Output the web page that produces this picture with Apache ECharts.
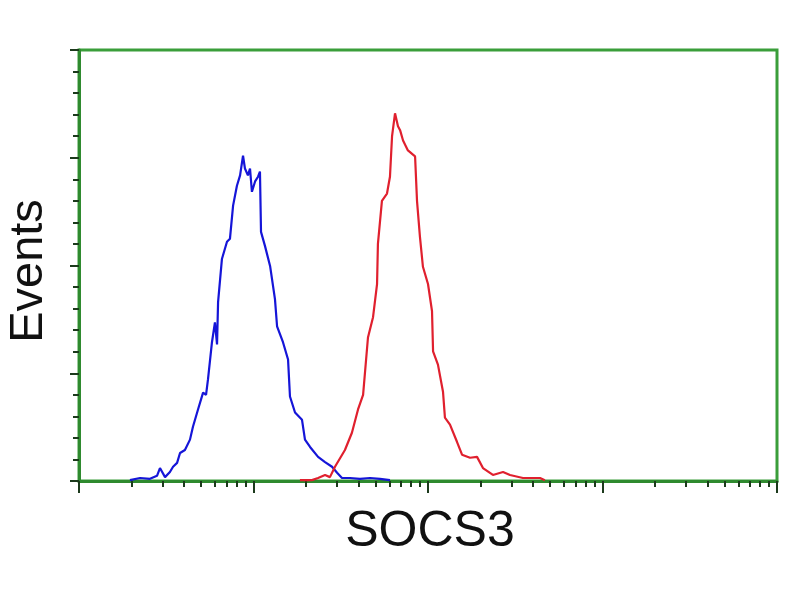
<!DOCTYPE html>
<html>
<head>
<meta charset="utf-8">
<script src="https://cdn.jsdelivr.net/npm/echarts@6/dist/echarts.min.js"></script>
<style>html,body{margin:0;padding:0;background:#fff;}#c{width:800px;height:600px;}</style>
</head>
<body>
<div id="c"></div>
<script>
// log10 of fluorescence intensity (x) and event counts (y)
var blueLogX = [0.292,0.350,0.407,0.447,0.464,0.493,0.521,0.539,0.562,0.579,0.607,0.636,0.653,0.682,0.711,0.728,0.739,0.762,0.779,0.791,0.797,0.819,0.848,0.865,0.883,0.905,0.923,0.940,0.951,0.968,0.980,0.991,1.009,1.026,1.037,1.043,1.066,1.095,1.123,1.135,1.169,1.198,1.209,1.238,1.278,1.295,1.324,1.370,1.410,1.450,1.479,1.507,1.553,1.610,1.668,1.725,1.782];
var blueY    = [0.2,0.7,0.5,1.2,3.0,0.9,2.1,3.3,4.2,6.5,7.2,9.6,12.6,16.6,20.5,20.0,23.5,32.2,36.8,31.7,41.5,51.5,55.5,56.2,63.9,68.5,70.9,75.5,72.5,70.9,72.5,67.1,69.5,70.6,71.8,57.8,54.5,49.9,42.2,35.9,32.2,28.2,19.6,15.9,14.2,9.6,7.9,5.6,4.4,3.3,1.9,0.7,0.7,0.5,0.7,0.5,0.2];
var redLogX  = [1.266,1.335,1.370,1.410,1.438,1.467,1.524,1.564,1.599,1.628,1.656,1.685,1.708,1.713,1.736,1.765,1.782,1.794,1.811,1.828,1.840,1.857,1.885,1.926,1.937,1.954,1.971,2.000,2.023,2.029,2.057,2.086,2.097,2.126,2.166,2.195,2.241,2.281,2.315,2.372,2.430,2.470,2.544,2.642,2.670];
var redY     = [0.2,0.2,0.7,1.4,0.9,3.3,7.2,11.2,16.6,20.0,33.3,38.0,45.7,55.0,65.0,66.7,70.6,80.0,85.3,82.3,81.4,79.0,76.7,75.3,65.0,56.6,49.7,45.7,39.4,30.1,27.0,20.7,14.7,13.1,9.1,6.1,5.4,5.6,3.0,1.4,2.1,1.4,0.7,0.7,0.2];
var decades = [1,10,100,1000];
var minorMultipliers = [2,3,4,5,6,7,8,9];
var xTitle = 'SOCS3';
var yTitle = 'Events';

var minorTickValues = [];
decades.forEach(function(d){ minorMultipliers.forEach(function(m){ minorTickValues.push(d*m); }); });
function pairs(lx, ys){ return lx.map(function(d,i){ return [Math.pow(10,d), ys[i]]; }); }

var axisGreen = '#2f8a2f';
var tickDark = '#1c3a1c';
var chart = echarts.init(document.getElementById('c'), null, {renderer:'canvas'});
chart.setOption({
  animation:false,
  backgroundColor:'#ffffff',
  grid:{left:79, right:23, top:50, bottom:119, show:true, borderColor:'#3a9e3a', borderWidth:3, backgroundColor:'#ffffff'},
  xAxis:[
    {type:'log', logBase:10, min:1, max:10000, position:'bottom',
     axisLine:{show:true, lineStyle:{color:axisGreen, width:3}},
     axisTick:{show:true, inside:false, length:12, lineStyle:{color:tickDark, width:2}},
     axisLabel:{show:false}, splitLine:{show:false}},
    {type:'log', logBase:10, min:1, max:10000, position:'bottom', gridIndex:0,
     axisLine:{show:false},
     axisTick:{show:true, inside:false, length:6, customValues:minorTickValues, lineStyle:{color:tickDark, width:2}},
     axisLabel:{show:false}, splitLine:{show:false}}
  ],
  yAxis:{type:'value', min:0, max:100, interval:25,
     axisLine:{show:true, lineStyle:{color:axisGreen, width:3}},
     axisTick:{show:true, inside:false, length:9, lineStyle:{color:tickDark, width:2}},
     minorTick:{show:true, splitNumber:5, length:6, lineStyle:{color:tickDark, width:2}},
     axisLabel:{show:false}, splitLine:{show:false}},
  series:[
    {type:'line', xAxisIndex:0, data:pairs(blueLogX, blueY), showSymbol:false, symbol:'none',
     lineStyle:{color:'#1515d8', width:2.2}, z:3},
    {type:'line', xAxisIndex:0, data:pairs(redLogX, redY), showSymbol:false, symbol:'none',
     lineStyle:{color:'#e0202e', width:2.2}, z:4}
  ],
  graphic:[
    {type:'text', x:430, y:532, style:{text:xTitle, fontSize:50, fontFamily:'Liberation Sans, Arial, sans-serif', fill:'#111', textAlign:'center', textVerticalAlign:'middle'}},
    {type:'text', x:29, y:271, rotation:Math.PI/2, style:{text:yTitle, fontSize:47, fontFamily:'Liberation Sans, Arial, sans-serif', fill:'#111', textAlign:'center', textVerticalAlign:'middle'}}
  ]
});
</script>
</body>
</html>
